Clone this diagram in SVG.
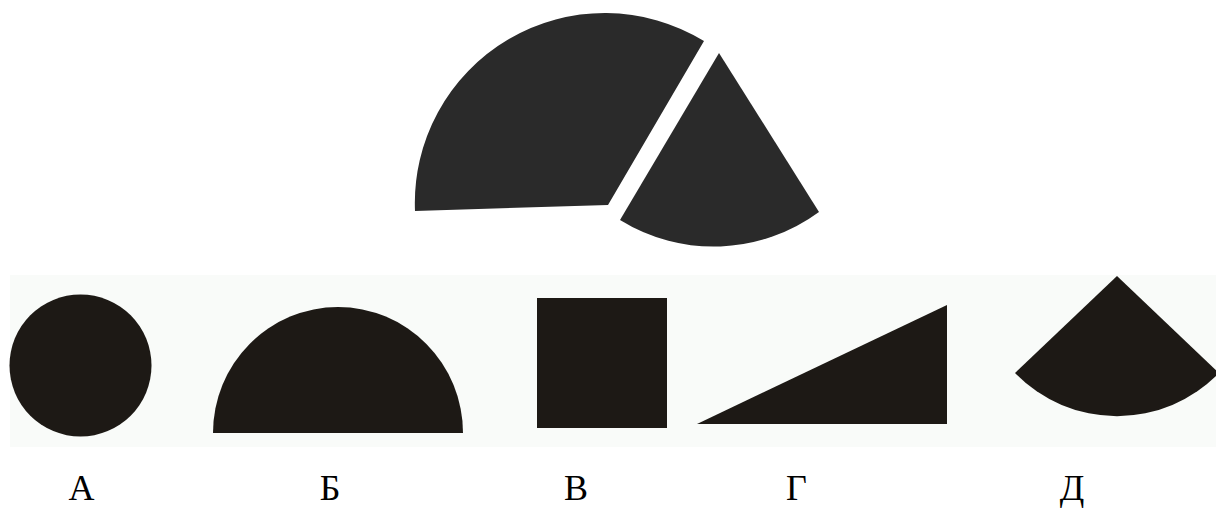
<svg xmlns="http://www.w3.org/2000/svg" width="1216" height="508" viewBox="0 0 1216 508">
  <style>
    .top { fill: #2a2a2a; }
    .shape { fill: #1d1915; }
    .label { font-family: "Liberation Serif", "Times New Roman", serif; font-size: 36px; fill: #000; text-anchor: middle; }
  </style>
  <rect x="0" y="0" width="1216" height="508" fill="#ffffff"/>
  <g id="puzzle">
    <path id="piece-large" class="top" d="M 415,211 L 608,205 L 704,41 A 190 190 0 0 0 415,211 Z"/>
    <path id="piece-small" class="top" d="M 719,53 L 819,212 A 178 178 0 0 1 620,220 Z"/>
  </g>
  <rect id="panel" x="10" y="275" width="1206" height="172" fill="#f9fbf9"/>
  <g id="option-A">
    <circle class="shape" cx="80.5" cy="365.5" r="71"/>
    <text class="label" x="81.5" y="500">А</text>
  </g>
  <g id="option-B">
    <path class="shape" d="M 213,433 A 125 126 0 0 1 463,433 Z"/>
    <text class="label" x="330" y="500">Б</text>
  </g>
  <g id="option-V">
    <rect class="shape" x="537" y="298" width="130" height="130"/>
    <text class="label" x="576" y="500">В</text>
  </g>
  <g id="option-G">
    <path class="shape" d="M 697,424 L 947,305 L 947,424 Z"/>
    <text class="label" x="796.5" y="500">Г</text>
  </g>
  <g id="option-D">
    <path class="shape" d="M 1117,276 L 1219,373 A 142 142 0 0 1 1015,373 Z"/>
    <text class="label" x="1072" y="500">Д</text>
  </g>
</svg>
